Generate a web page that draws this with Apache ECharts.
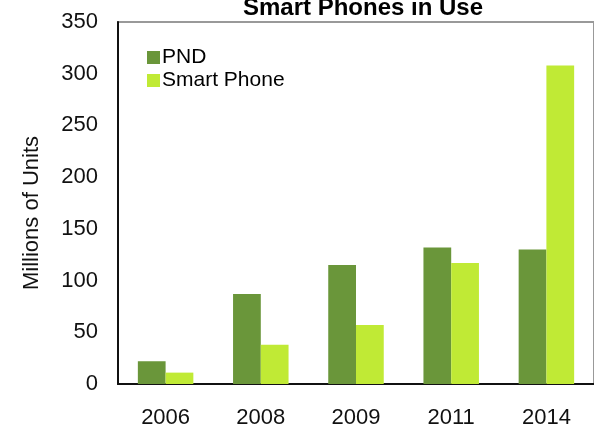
<!DOCTYPE html>
<html>
<head>
<meta charset="utf-8">
<script src="https://cdn.jsdelivr.net/npm/echarts@6/dist/echarts.min.js"></script>
<style>
html,body{margin:0;padding:0;background:#fff;}
#chart{width:594px;height:430px;}
</style>
</head>
<body>
<div id="chart"></div>
<script>
var categories = ['2006', '2008', '2009', '2011', '2014'];
var pndValues = [22, 87, 115, 132, 130];
var smartPhoneValues = [11, 38, 57, 117, 308];
var yTicks = [0, 50, 100, 150, 200, 250, 300, 350];
var seriesNames = ['PND', 'Smart Phone'];
var titleText = 'Smart Phones in Use';
var yAxisTitle = 'Millions of Units';

var chart = echarts.init(document.getElementById('chart'), null, {renderer: 'canvas'});
var font = 'Liberation Sans, Arial, sans-serif';
chart.setOption({
  animation: false,
  backgroundColor: '#ffffff',
  title: {
    text: titleText,
    left: 358, textAlign: 'center',
    top: -9,
    textStyle: {fontFamily: font, fontSize: 24, fontWeight: 'bold', color: '#000'}
  },
  legend: {
    orient: 'vertical',
    left: 142, top: 42,
    itemWidth: 13, itemHeight: 13, itemGap: 2,
    icon: 'rect',
    data: seriesNames,
    textStyle: {fontFamily: font, fontSize: 21, color: '#000', lineHeight: 21, padding: [0,0,0,-3]}
  },
  graphic: [{
    type: 'text',
    x: 32, y: 213, rotation: Math.PI / 2,
    style: {text: yAxisTitle, fontFamily: font, fontSize: 22, fill: '#111', align: 'center', verticalAlign: 'middle'}
  }],
  grid: {
    left: 118, top: 22, width: 481, height: 362,
    show: true, borderColor: '#999', borderWidth: 2, containLabel: false
  },
  xAxis: {
    type: 'category',
    data: categories,
    axisLine: {lineStyle: {color: '#111', width: 2}},
    axisTick: {show: false},
    axisLabel: {fontFamily: font, fontSize: 22, color: '#111', margin: 23}
  },
  yAxis: {
    type: 'value',
    min: yTicks[0], max: yTicks[yTicks.length - 1], interval: yTicks[1] - yTicks[0],
    axisLine: {show: true, lineStyle: {color: '#111', width: 2}},
    axisTick: {show: false},
    splitLine: {show: false},
    axisLabel: {fontFamily: font, fontSize: 22, color: '#111', margin: 20}
  },
  series: [{
    name: seriesNames[0], type: 'bar', data: pndValues,
    itemStyle: {color: '#6a963a'},
    barGap: '0%', barCategoryGap: '41.7%'
  }, {
    name: seriesNames[1], type: 'bar', data: smartPhoneValues,
    itemStyle: {color: '#c0ea35'},
    barGap: '0%', barCategoryGap: '41.7%'
  }]
});
</script>
</body>
</html>
